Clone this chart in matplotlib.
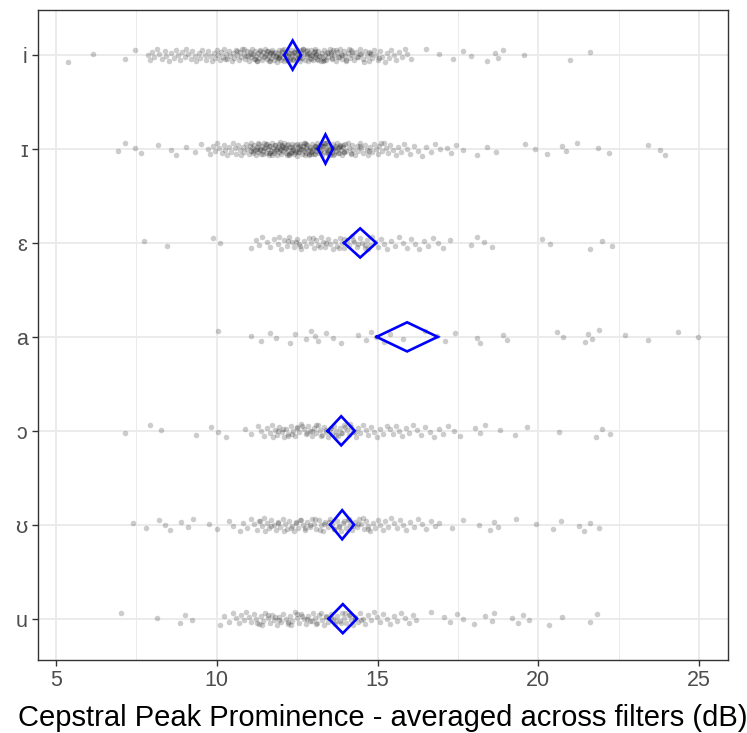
import matplotlib
matplotlib.use("Agg")
import matplotlib.pyplot as plt
import numpy as np

plt.rcParams['font.family'] = ['Liberation Sans', 'DejaVu Sans']

# vowel categories, top to bottom
vowels = ['i', 'ɪ', 'ɛ', 'a', 'ɔ', 'ʊ', 'u']

# CPP values (dB)
cpp_i = [5.37, 6.15, 7.15, 7.46, 7.86, 7.92,
         7.98, 8.06, 8.14, 8.21, 8.3, 8.38, 8.42, 8.51, 8.57, 8.66, 8.72, 8.79, 8.85, 8.93,
         9.01, 9.04, 9.12, 9.19, 9.23, 9.31, 9.36, 9.44, 9.49, 9.55, 9.62, 9.66, 9.73, 9.79,
         9.84, 9.9, 9.96, 10.01, 10.05, 10.11, 10.14, 10.2, 10.24, 10.29, 10.33, 10.38, 10.41,
         10.46, 10.5, 10.55, 10.59, 10.63, 10.68, 10.71, 10.76, 10.8, 10.84, 10.88, 10.93, 10.97,
         11.0, 11.03, 11.06, 11.1, 11.13, 11.16, 11.2, 11.22, 11.26, 11.29, 11.32, 11.35, 11.38,
         11.41, 11.44, 11.47, 11.5, 11.52, 11.55, 11.58, 11.61, 11.64, 11.67, 11.7, 11.72, 11.75,
         11.78, 11.81, 11.84, 11.87, 11.9, 11.92, 11.95, 11.98, 12.01, 12.04, 12.06, 12.09, 12.12,
         12.15, 12.18, 12.2, 12.23, 12.26, 12.29, 12.31, 12.34, 12.37, 12.4, 12.43, 12.46, 12.48,
         12.51, 12.54, 12.57, 12.6, 12.62, 12.65, 12.68, 12.71, 12.74, 12.77, 12.8, 12.83, 12.86,
         12.89, 12.92, 12.95, 12.98, 13.01, 13.04, 13.07, 13.1, 13.13, 13.16, 13.2, 13.23, 13.26,
         13.3, 13.33, 13.37, 13.4, 13.44, 13.47, 13.51, 13.55, 13.58, 13.62, 13.66, 13.7, 13.74,
         13.78, 13.82, 13.86, 13.9, 13.95, 13.99, 14.03, 14.08, 14.13, 14.18, 14.22, 14.28, 14.33,
         14.39, 14.44, 14.5, 14.55, 14.61, 14.66, 14.72, 14.78, 14.84, 14.9, 14.96, 15.02, 15.09,
         15.15, 15.22, 15.28, 15.35, 15.41, 15.5, 15.58, 15.66, 15.75, 15.84, 15.93, 16.05,
         11.57, 11.83, 12.08, 12.33, 12.58, 12.82, 13.07, 13.32, 13.56, 13.81, 14.11, 14.47,
         10.27, 10.62, 10.91, 11.24, 14.74, 15.06,
         10.85, 11.05, 11.18, 11.36, 11.49, 11.63, 11.76, 11.91, 12.03, 12.17, 12.28, 12.44,
         12.56, 12.69, 12.81, 12.94, 13.06, 13.19, 13.31, 13.45, 13.59, 13.72, 13.88, 14.02,
         14.2, 14.36, 14.58, 14.81, 12.38, 12.63, 12.91, 13.14, 11.68, 11.95,
         16.5, 16.9, 17.35, 17.66, 17.9, 18.4, 18.65, 18.75, 18.9, 19.56, 21.0, 21.6]

cpp_I = [6.93, 7.15, 7.46, 7.65, 8.17, 8.58, 8.73, 9.04, 9.32, 9.5,
         9.73, 9.8, 9.88, 9.95, 10.02, 10.08, 10.15, 10.21, 10.27, 10.33, 10.39, 10.45, 10.5,
         10.56, 10.61, 10.66, 10.71, 10.76, 10.81, 10.86, 10.9, 10.95, 10.99,
         11.02, 11.05, 11.08, 11.11, 11.14, 11.17, 11.2, 11.23, 11.26, 11.29, 11.32, 11.35, 11.38,
         11.41, 11.44, 11.47, 11.5, 11.53, 11.56, 11.59, 11.62, 11.65, 11.68, 11.71, 11.74, 11.77,
         11.8, 11.83, 11.86, 11.89, 11.92, 11.95, 11.98, 12.01, 12.04, 12.07, 12.1, 12.13, 12.16,
         12.19, 12.22, 12.25, 12.28, 12.31, 12.34, 12.37, 12.4, 12.43, 12.46, 12.49, 12.52, 12.55,
         12.58, 12.61, 12.64, 12.67, 12.7, 12.73, 12.76, 12.79, 12.82, 12.85, 12.88, 12.91, 12.94,
         12.97, 13.0, 13.03, 13.06, 13.09, 13.12, 13.15, 13.18, 13.21, 13.24, 13.27, 13.3, 13.33,
         13.36, 13.39, 13.42, 13.45, 13.48, 13.51, 13.54, 13.57, 13.6, 13.63, 13.66, 13.69, 13.72,
         13.75, 13.78, 13.81, 13.84, 13.87, 13.9, 13.93, 13.96, 13.99,
         11.24, 11.43, 11.61, 11.79, 11.97, 12.14, 12.32, 12.51, 12.68, 12.86, 13.05, 13.22,
         13.41, 13.58, 13.77, 13.94, 11.34, 11.72, 12.06, 12.43, 12.77, 13.13, 13.48, 13.84,
         11.12, 11.28, 11.46, 11.63, 11.81, 11.99, 12.17, 12.35, 12.53, 12.71, 12.89, 13.07,
         13.25, 13.43, 13.61, 13.79, 13.97, 11.52, 11.88, 12.24, 12.6, 12.96, 13.32, 13.68,
         11.67, 12.02, 12.38, 12.74, 13.1, 13.46, 12.2, 12.55, 12.92, 13.28,
         14.03, 14.07, 14.12, 14.16, 14.21, 14.25, 14.3, 14.35, 14.4, 14.45, 14.5, 14.55, 14.6,
         14.66, 14.71, 14.77, 14.82, 14.88, 14.94, 15.0, 15.06, 15.13, 15.19, 15.26, 15.33,
         15.4, 15.48, 15.56, 15.64, 15.73, 15.82, 15.92, 16.02, 16.13, 16.25, 16.38, 16.52,
         16.66, 16.8, 16.94, 14.18, 14.47, 14.73, 15.1,
         17.15, 17.3, 17.45, 17.66, 18.1, 18.4, 18.7, 19.6, 19.9, 20.27, 20.75, 20.85, 21.2,
         21.85, 22.2, 23.4, 23.8, 23.95]

cpp_E = [7.74, 8.45, 9.88, 10.1, 11.07, 11.22,
         11.3, 11.42, 11.55, 11.66, 11.78, 11.9, 12.0, 12.08, 12.17, 12.25, 12.33, 12.4, 12.48,
         12.55, 12.63, 12.7, 12.78, 12.86, 12.93, 13.01, 13.08, 13.15, 13.23, 13.3, 13.37, 13.45,
         13.52, 13.6, 13.67, 13.74, 13.82, 13.9, 13.97, 14.05, 14.12, 14.2, 14.28, 14.36, 14.44,
         14.52, 14.6, 14.68, 14.76, 14.84, 14.92, 15.0, 15.1, 15.2, 15.3, 12.2, 12.6, 13.0,
         13.4, 13.8, 14.25, 14.6, 11.95, 12.45, 13.2, 13.95, 14.4, 14.7,
         15.42, 15.55, 15.68, 15.8, 15.93, 16.05, 16.18, 16.3, 16.45, 16.58, 16.72, 16.88,
         17.05, 17.25,
         17.9, 18.1, 18.3, 18.55, 20.1, 20.37, 21.6, 21.98, 22.3]

cpp_a = [10.04, 11.07, 11.38, 11.66, 11.84, 12.28, 12.43, 12.78, 12.93, 13.06, 13.15,
         13.4, 13.6, 13.87, 14.4, 14.65, 14.8, 14.95, 15.2, 15.39, 15.8, 16.48, 16.85,
         17.1, 17.4, 18.1, 18.19, 18.9, 19.03, 20.58, 20.77, 21.45, 21.55, 21.67, 21.9,
         22.7, 23.4, 24.35, 24.97]

cpp_O = [7.15, 7.92, 8.27, 9.35, 9.82, 10.04, 10.29, 10.88, 11.07,
         11.28, 11.38, 11.47, 11.56, 11.64, 11.72, 11.8, 11.88, 11.95, 12.02, 12.09, 12.16,
         12.23, 12.3, 12.37, 12.44, 12.5, 12.57, 12.63, 12.7, 12.76, 12.83, 12.89, 12.95, 13.02,
         13.08, 13.14, 13.2, 13.27, 13.33, 13.39, 13.46, 13.52, 13.58, 13.65, 13.71, 13.78,
         13.84, 13.91, 13.97, 14.04, 14.11, 14.18, 14.25, 14.32, 14.39, 14.47, 14.55, 14.63,
         14.71, 14.8, 14.89, 14.98, 15.08, 15.18, 15.3, 11.9, 12.2, 12.5, 12.8, 13.1, 13.4,
         13.7, 14.0, 14.3, 11.75, 12.05, 12.35, 12.65, 12.95, 13.25, 13.55, 13.85, 14.15,
         15.38, 15.47, 15.56, 15.66, 15.76, 15.87, 15.98, 16.1, 16.22, 16.35, 16.48, 16.62,
         16.76, 16.9, 17.05, 17.2, 17.38, 17.57,
         18.03, 18.19, 18.34, 18.8, 19.28, 19.65, 20.64, 21.8, 21.98, 22.23]

cpp_U = [7.38, 7.79, 8.2, 8.4, 8.54, 8.88, 9.09, 9.26, 9.77, 10.01, 10.38, 10.52,
         10.72, 10.82, 10.93,
         11.06, 11.15, 11.24, 11.32, 11.4, 11.48, 11.56, 11.63, 11.7, 11.77, 11.84, 11.91,
         11.98, 12.05, 12.12, 12.19, 12.26, 12.33, 12.4, 12.47, 12.54, 12.61, 12.68, 12.75,
         12.82, 12.89, 12.96, 13.03, 13.1, 13.17, 13.24, 13.31, 13.38, 13.45, 13.52, 13.59,
         13.66, 13.73, 13.8, 13.87, 13.94, 14.01, 14.08, 14.15, 14.22, 14.29, 14.36, 14.43,
         14.5, 14.57, 14.64, 14.71, 14.78, 14.85, 14.92, 15.0, 15.08, 15.16, 15.24, 15.33,
         15.42, 15.51, 15.6, 15.7, 15.8, 15.9, 16.0, 16.12, 16.25, 16.38, 16.52, 16.66, 16.8,
         11.5, 11.9, 12.3, 12.6, 12.9, 13.2, 13.5, 13.8, 14.1, 14.4, 14.7,
         11.35, 11.7, 12.1, 12.45, 12.75, 13.05, 13.35, 13.65, 13.95, 14.25, 14.55,
         16.92, 17.33, 17.67, 18.15, 18.49, 18.62, 18.76, 19.3, 19.92, 20.46, 20.7,
         21.28, 21.42, 21.62, 21.89]

cpp_u = [7.02, 8.13, 8.86, 9.02, 9.22, 10.1, 10.24, 10.38, 10.52,
         10.6, 10.68, 10.76, 10.84, 10.92, 11.0, 11.08, 11.16, 11.23, 11.3, 11.37, 11.44,
         11.51, 11.58, 11.65, 11.72, 11.79, 11.86, 11.93, 12.0, 12.07, 12.14, 12.21, 12.28,
         12.35, 12.42, 12.49, 12.56, 12.63, 12.7, 12.77, 12.84, 12.91, 12.98, 13.05, 13.12,
         13.19, 13.26, 13.33, 13.4, 13.47, 13.54, 13.61, 13.68, 13.75, 13.82, 13.89, 13.96,
         14.03, 14.1, 14.17, 14.24, 14.31, 14.38, 14.46, 14.54, 14.62, 14.7, 14.79, 14.88,
         14.97, 15.07, 15.17, 15.28, 15.39, 15.5, 15.62, 15.74, 15.86, 15.98, 16.1, 16.2,
         11.4, 11.8, 12.2, 12.5, 12.8, 13.1, 13.4, 13.7, 14.0, 14.3,
         11.25, 11.6, 11.95, 12.3, 12.65, 12.95, 13.25, 13.55, 13.85, 14.15, 14.5,
         16.65, 17.06, 17.26, 17.47, 17.67, 18.01, 18.35, 18.56, 18.62,
         19.17, 19.37, 19.51, 19.71, 20.33, 20.74, 21.62, 21.83]

cpp = [cpp_i, cpp_I, cpp_E, cpp_a, cpp_O, cpp_U, cpp_u]

# mean and half-width of the confidence interval per vowel
means = [12.36, 13.38, 14.46, 15.92, 13.87, 13.9, 13.92]
ci_half = [0.26, 0.23, 0.5, 0.95, 0.42, 0.37, 0.44]

fig = plt.figure(figsize=(7.47, 7.33), dpi=100)
ax = fig.add_axes([38 / 747, 73 / 733, 690 / 747, 650 / 733])

ypos = np.arange(len(vowels))[::-1] + 1.0

for k, (vals, y) in enumerate(zip(cpp, ypos)):
    vals = np.asarray(vals)
    idx = np.arange(len(vals)) + 7 * k
    jit = ((idx * 0.6180339887) % 1.0 - 0.5) * 2 * 0.07
    ax.scatter(vals, y + jit, s=16, color='black', alpha=0.2, linewidths=0, zorder=3)

dh = 0.155
for m, h, y in zip(means, ci_half, ypos):
    ax.plot([m - h, m, m + h, m, m - h], [y, y + dh, y, y - dh, y],
            color='#0000FF', lw=1.9, zorder=4, solid_joinstyle='miter')

ax.set_xlim(4.44, 25.9)
ax.set_ylim(0.56, 7.48)
ax.set_xticks([5, 10, 15, 20, 25])
ax.set_xticks([7.5, 12.5, 17.5, 22.5], minor=True)
ax.set_yticks(ypos)
ax.set_yticklabels(vowels)
ax.grid(True, which='major', color='#EBEBEB', lw=1.4, zorder=0)
ax.grid(True, which='minor', axis='x', color='#EBEBEB', lw=0.7, zorder=0)
ax.set_axisbelow(True)
ax.tick_params(which='major', length=4, width=1, color='#333333',
               labelcolor='#4D4D4D', labelsize=15.5)
ax.tick_params(which='minor', length=0)
for sp in ax.spines.values():
    sp.set_color('#333333')
    sp.set_linewidth(1.0)

fig.text(383 / 747, 1 - 718 / 733, 'Cepstral Peak Prominence - averaged across filters (dB)',
         ha='center', va='center', fontsize=21, color='black')

fig.savefig('out.png', dpi=100)
